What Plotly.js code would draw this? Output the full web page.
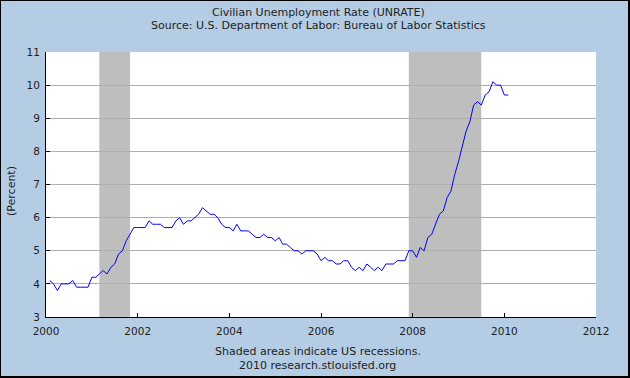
<!DOCTYPE html>
<html>
<head>
<meta charset="utf-8">
<script src="https://cdn.plot.ly/plotly-3.0.1.min.js"></script>
<style>
html,body{margin:0;padding:0;background:#B4CDE4;}
#wrap{position:relative;width:630px;height:378px;}
#chart{width:630px;height:378px;}
#frame{position:absolute;left:0;top:0;width:630px;height:378px;box-sizing:border-box;border-left:1px solid #000;border-top:1px solid #000;border-right:2px solid #000;border-bottom:2px solid #000;pointer-events:none;}
</style>
</head>
<body>
<div id="wrap"><div id="chart"></div><div id="frame"></div></div>
<script>
const startMonth = '2000-02';
const unrate = [
  4.1, 4.0, 3.8, 4.0, 4.0, 4.0, 4.1, 3.9, 3.9, 3.9, 3.9,
  4.2, 4.2, 4.3, 4.4, 4.3, 4.5, 4.6, 4.9, 5.0, 5.3, 5.5, 5.7,
  5.7, 5.7, 5.7, 5.9, 5.8, 5.8, 5.8, 5.7, 5.7, 5.7, 5.9, 6.0,
  5.8, 5.9, 5.9, 6.0, 6.1, 6.3, 6.2, 6.1, 6.1, 6.0, 5.8, 5.7,
  5.7, 5.6, 5.8, 5.6, 5.6, 5.6, 5.5, 5.4, 5.4, 5.5, 5.4, 5.4,
  5.3, 5.4, 5.2, 5.2, 5.1, 5.0, 5.0, 4.9, 5.0, 5.0, 5.0, 4.9,
  4.7, 4.8, 4.7, 4.7, 4.6, 4.6, 4.7, 4.7, 4.5, 4.4, 4.5, 4.4,
  4.6, 4.5, 4.4, 4.5, 4.4, 4.6, 4.6, 4.6, 4.7, 4.7, 4.7, 5.0,
  5.0, 4.8, 5.1, 5.0, 5.4, 5.5, 5.8, 6.1, 6.2, 6.6, 6.8, 7.3,
  7.7, 8.2, 8.6, 8.9, 9.4, 9.5, 9.4, 9.7, 9.8, 10.1, 10.0, 10.0,
  9.7, 9.7
];
const recessionStarts = ['2001-03-01', '2007-12-01'];
const recessionEnds = ['2001-11-01', '2009-07-01'];
const xTickVals = ['2000-01-01','2002-01-01','2004-01-01','2006-01-01','2008-01-01','2010-01-01','2012-01-01'];
const xTickText = ['2000','2002','2004','2006','2008','2010','2012'];
const yTickVals = [3,4,5,6,7,8,9,10,11];

function monthDates(start, n){
  const [y0,m0] = start.split('-').map(Number);
  const out = [];
  for(let i=0;i<n;i++){
    const t = (m0-1)+i;
    const y = y0 + Math.floor(t/12);
    const m = (t%12)+1;
    out.push(y + '-' + String(m).padStart(2,'0') + '-01');
  }
  return out;
}
const dates = monthDates(startMonth, unrate.length);

const font = 'DejaVu Sans, Verdana, sans-serif';
const txtColor = '#1e1e1e';

const shapes = recessionStarts.map((s,i)=>({
  type:'rect', xref:'x', yref:'paper', x0:s, x1:recessionEnds[i], y0:0, y1:1,
  fillcolor:'#BEBEBE', line:{width:0}, layer:'below'
}));

const L=46, R=34, T=52, B=61;
const H = 378-T-B, W = 630-L-R;
function py(pix){ return (378-B-pix)/H; }
function px(pix){ return (pix-L)/W; }

const annotations = [
  {text:'Civilian Unemployment Rate (UNRATE)', x:px(318), y:py(12)},
  {text:'Source: U.S. Department of Labor: Bureau of Labor Statistics', x:px(318), y:py(25)},
  {text:'Shaded areas indicate US recessions.', x:px(317.5), y:py(351)},
  {text:'2010 research.stlouisfed.org', x:px(317.5), y:py(365)},
  {text:'(Percent)', x:px(11), y:py(191), textangle:-90}
].map(a=>Object.assign({xref:'paper', yref:'paper', xanchor:'center', yanchor:'middle',
  showarrow:false, font:{family:font, size:11, color:txtColor}}, a));

const data = [{
  x: dates, y: unrate, type:'scatter', mode:'lines',
  line:{color:'#0000FF', width:1}, hoverinfo:'skip'
}];

const layout = {
  width:630, height:378,
  margin:{l:L, r:R, t:T, b:B, pad:0},
  paper_bgcolor:'#B4CDE4', plot_bgcolor:'#FFFFFF',
  showlegend:false,
  xaxis:{
    type:'date', range:['2000-01-01','2012-01-01'],
    tickmode:'array', tickvals:xTickVals, ticktext:xTickText,
    ticks:'inside', ticklen:4, tickwidth:1, tickcolor:'#000',
    showline:true, linecolor:'#000', linewidth:1,
    showgrid:false, zeroline:false, ticklabelstandoff:4,
    tickfont:{family:font, size:10.5, color:txtColor}
  },
  yaxis:{
    range:[3,11], tickmode:'array', tickvals:yTickVals,
    ticks:'inside', ticklen:4, tickwidth:1, tickcolor:'#000',
    showline:true, linecolor:'#000', linewidth:1,
    showgrid:true, gridcolor:'#AEAEAE', gridwidth:1, zeroline:false,
    ticklabelstandoff:3,
    tickfont:{family:font, size:10.5, color:txtColor}
  },
  shapes: shapes,
  annotations: annotations
};

Plotly.newPlot('chart', data, layout, {staticPlot:true, displayModeBar:false});
</script>
</body>
</html>
